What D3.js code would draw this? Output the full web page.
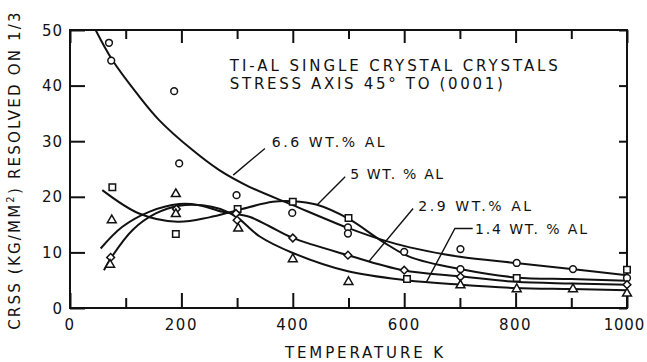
<!DOCTYPE html>
<html><head><meta charset="utf-8">
<script src="https://cdn.jsdelivr.net/npm/d3@7"></script>
<style>
html,body{margin:0;padding:0;background:#fff;}
svg{display:block;}
text{font-family:"DejaVu Sans",sans-serif;fill:#111;}
</style></head>
<body>
<svg id="chart" width="647" height="362"></svg>
<script>
// ---- data ----
const xTickLabels = [0, 200, 400, 600, 800, 1000];
const xTicksAll = [0,100,200,300,400,500,600,700,800,900,1000];
const yTickLabels = [0, 10, 20, 30, 40, 50];

const seriesNames = ["6.6 WT.% AL", "5 WT. % AL", "2.9 WT.% AL", "1.4 WT. % AL"];

// fitted curves [temperature K, CRSS]
const curve66 = [[46,50],[76,44.6],[120,38.6],[160,33.8],[220,28.4],[268,24.8],[322,21.8],[400,18.5],[499,14.4],[562,12.2],[610,10.9],[700,9.2],[800,8.1],[900,7.0],[1000,5.9]];
const curve5  = [[58,21.2],[124,17.0],[193,15.5],[250,16.3],[301,17.6],[364,19.1],[400,19.2],[442,18.6],[499,16.1],[562,11.9],[610,9.2],[700,7.0],[800,5.5],[900,5.2],[1000,4.9]];
const curve29 = [[55,10.7],[94,14.6],[142,17.3],[196,18.7],[232,18.5],[274,17.3],[322,16.4],[358,14.7],[400,12.6],[499,9.5],[598,6.8],[700,5.7],[800,4.7],[900,4.4],[1000,4.2]];
const curve14 = [[61,6.8],[73,8.9],[112,14.0],[154,17.0],[196,18.4],[238,18.5],[270,17.8],[300,16.3],[340,12.9],[400,9.9],[499,6.6],[604,5.0],[700,4.2],[800,3.6],[900,3.4],[1000,3.2]];

// measured points
const circlePts   = [[70,47.7],[74,44.5],[187,39],[196,26],[299,20.3],[399,17.1],[499,14.5],[499,13.4],[600,10.1],[701,10.6],[701,7.0],[802,8.1],[903,7.0],[1000,5.4]];
const squarePts   = [[76,21.7],[190,13.3],[301,17.8],[400,19.1],[500,16.2],[605,5.2],[802,5.4],[1000,6.9]];
const diamondPts  = [[73,9.1],[191,17.8],[298,17.0],[300,15.8],[400,12.6],[499,9.5],[600,6.8],[701,5.6],[1000,4.2]];
const trianglePts = [[72,7.8],[75,15.8],[190,20.5],[190,16.9],[302,14.3],[400,8.8],[500,4.7],[701,4.1],[802,3.4],[903,3.4],[1000,2.6]];

// annotation labels: [x, y] of text start, leader polyline in data coords
const labelPos = [[362,29.0],[503,23.2],[625,17.5],[727,13.3]];
const leaders = [
  [[350,28.7],[293,23.9]],
  [[494,23.6],[443,18.5]],
  [[616,17.9],[536,8.3]],
  [[723,14.3],[691,14.3],[640,4.7]]
];
const titleLines = ["TI-AL SINGLE CRYSTAL CRYSTALS", "STRESS AXIS 45\u00B0 TO (0001)"];

// ---- layout ----
const L = 70, R = 627, T = 30, B = 308;
const svg = d3.select("#chart");
const x = d3.scaleLinear().domain([0, 1000]).range([L, R]);
const y = d3.scaleLinear().domain([0, 50]).range([B, T]);

svg.append("defs").append("clipPath").attr("id","clip")
  .append("rect").attr("x",L).attr("y",T).attr("width",R-L).attr("height",B-T);

// frame
svg.append("rect").attr("x",L).attr("y",T).attr("width",R-L).attr("height",B-T)
  .attr("fill","none").attr("stroke","#111").attr("stroke-width",2);

// ticks via axes (inward)
const isMajor = d => xTickLabels.includes(d);
const gB = svg.append("g").attr("transform",`translate(0,${B})`)
  .call(d3.axisTop(x).tickValues(xTicksAll).tickFormat("").tickSizeOuter(0));
gB.selectAll(".tick line").attr("y2", d => isMajor(d) ? -15 : -10);
const gT = svg.append("g").attr("transform",`translate(0,${T})`)
  .call(d3.axisBottom(x).tickValues(xTicksAll).tickFormat("").tickSizeOuter(0));
gT.selectAll(".tick line").attr("y2", d => isMajor(d) ? 13 : 9);
const gL = svg.append("g").attr("transform",`translate(${L},0)`)
  .call(d3.axisRight(y).tickValues(yTickLabels).tickFormat("").tickSize(15).tickSizeOuter(0));
const gR = svg.append("g").attr("transform",`translate(${R},0)`)
  .call(d3.axisLeft(y).tickValues(yTickLabels).tickFormat("").tickSize(8).tickSizeOuter(0));
[gB,gT,gL,gR].forEach(g=>{
  g.select(".domain").remove();
  g.selectAll(".tick line").attr("stroke","#111").attr("stroke-width",2);
});

// tick labels (last one kept inside the window)
svg.append("g").selectAll("text").data(xTickLabels).join("text")
  .attr("x", d => d === 1000 ? 645 : x(d)).attr("y", 330)
  .attr("text-anchor", d => d === 1000 ? "end" : "middle")
  .style("font-size","15px").style("letter-spacing", d => d === 1000 ? "0.8px" : "1.5px").text(d => d);
svg.append("g").selectAll("text").data(yTickLabels).join("text")
  .attr("x", 63).attr("y", d => y(d) + 5.5).attr("text-anchor","end")
  .style("font-size","15px").style("letter-spacing","1px").text(d => d);

// axis titles
svg.append("text").attr("x", 285).attr("y", 358).attr("textLength",158).attr("lengthAdjust","spacing")
  .style("font-size","15px").text("TEMPERATURE K");
const yl = svg.append("text").attr("transform","translate(20,170) rotate(-90)").attr("text-anchor","middle")
  .style("font-size","15px").style("letter-spacing","2.2px");
yl.append("tspan").text("CRSS (KG/MM");
yl.append("tspan").attr("dy",-6).style("font-size","10px").text("2");
yl.append("tspan").attr("dy",6).text(") RESOLVED ON 1/3");

// title
const tl = [[287,42.7,328],[287,39.3,273]];
titleLines.forEach((t,i)=>{
  svg.append("text").attr("x",x(tl[i][0])).attr("y",y(tl[i][1]))
    .attr("textLength",tl[i][2]).attr("lengthAdjust","spacing")
    .style("font-size","15px").text(t);
});

// curves
const line = d3.line().x(d=>x(d[0])).y(d=>y(d[1])).curve(d3.curveCatmullRom.alpha(0.5));
const gc = svg.append("g").attr("clip-path","url(#clip)");
[curve66, curve5, curve29, curve14].forEach(c=>{
  gc.append("path").attr("d", line(c)).attr("fill","none").attr("stroke","#111").attr("stroke-width",2);
});

// leaders and labels
const lline = d3.line().x(d=>x(d[0])).y(d=>y(d[1]));
leaders.forEach(l=>{
  svg.append("path").attr("d", lline(l)).attr("fill","none").attr("stroke","#111").attr("stroke-width",1.4);
});
const labW = [113, 93, 113, 112];
seriesNames.forEach((n,i)=>{
  svg.append("text").attr("x",x(labelPos[i][0])).attr("y",y(labelPos[i][1]))
    .attr("textLength",labW[i]).attr("lengthAdjust","spacing")
    .style("font-size","14px").text(n);
});

// markers
const mk = (pts, type, size, rot) => {
  const sym = d3.symbol().type(type).size(size);
  svg.append("g").selectAll("path").data(pts).join("path")
    .attr("d", sym)
    .attr("transform", d => `translate(${x(d[0])},${y(d[1])}) rotate(${rot})`)
    .attr("fill","#fff").attr("stroke","#111").attr("stroke-width",1.5);
};
mk(circlePts, d3.symbolCircle, 36, 0);
mk(squarePts, d3.symbolSquare, 42, 0);
mk(diamondPts, d3.symbolSquare, 30, 45);
mk(trianglePts, d3.symbolTriangle, 34, 0);
</script>
</body></html>
